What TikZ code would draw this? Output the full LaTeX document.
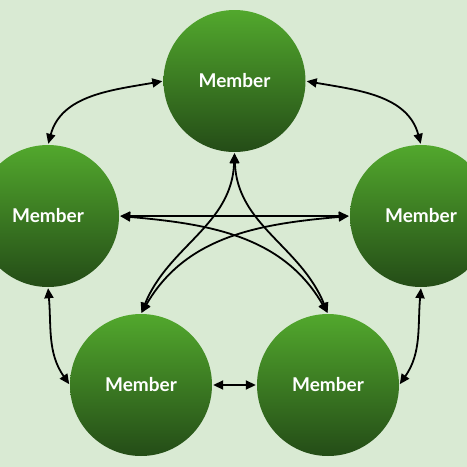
\documentclass[tikz,border=0pt]{standalone}
\usepackage{fontspec}
\setmainfont{Lato}
\usetikzlibrary{arrows.meta}
\definecolor{bg}{HTML}{D9EAD3}
\definecolor{gtop}{HTML}{52A82D}
\definecolor{gbot}{HTML}{244C17}
\tikzset{
  member/.style={circle, minimum size=142pt, inner sep=0pt, top color=gtop, bottom color=gbot, draw=none,
    text=white, font=\fontsize{19}{22}\selectfont\bfseries},
  link/.style={line width=1.8pt, {Triangle[length=10pt,width=9pt]}-{Triangle[length=10pt,width=9pt]}, shorten <=1pt, shorten >=1pt}
}
\begin{document}
\begin{tikzpicture}[x=1pt,y=-1pt]
\fill[bg] (0,0) rectangle (467,467);
\useasboundingbox (0,0) rectangle (467,467);
\clip (0,0) rectangle (467,467);
\node[member] (T) at (234.5,81) {Member};
\node[member] (L) at (48,216) {Member};
\node[member] (R) at (421,216) {Member};
\node[member] (BL) at (141,385) {Member};
\node[member] (BR) at (328,385) {Member};
% outer ring
\draw[link] (L.north) to[out=75, in=190] (T.west);
\draw[link] (T.east) to[out=-10, in=105] (R.north);
\draw[link] (L.south) to[out=-85, in=125] (BL.west);
\draw[link] (R.south) to[out=-95, in=55] (BR.east);
\draw[link] (BL.east) -- (BR.west);
% diagonals
\draw[link] (L.east) -- (R.west);
\draw[link] (L.east) to[out=-5, in=120] (BR.north);
\draw[link] (R.west) to[out=185, in=60] (BL.north);
\draw[link] (T.south) to[out=-92, in=68] (BL.north);
\draw[link] (T.south) to[out=-88, in=112] (BR.north);
\end{tikzpicture}
\end{document}
